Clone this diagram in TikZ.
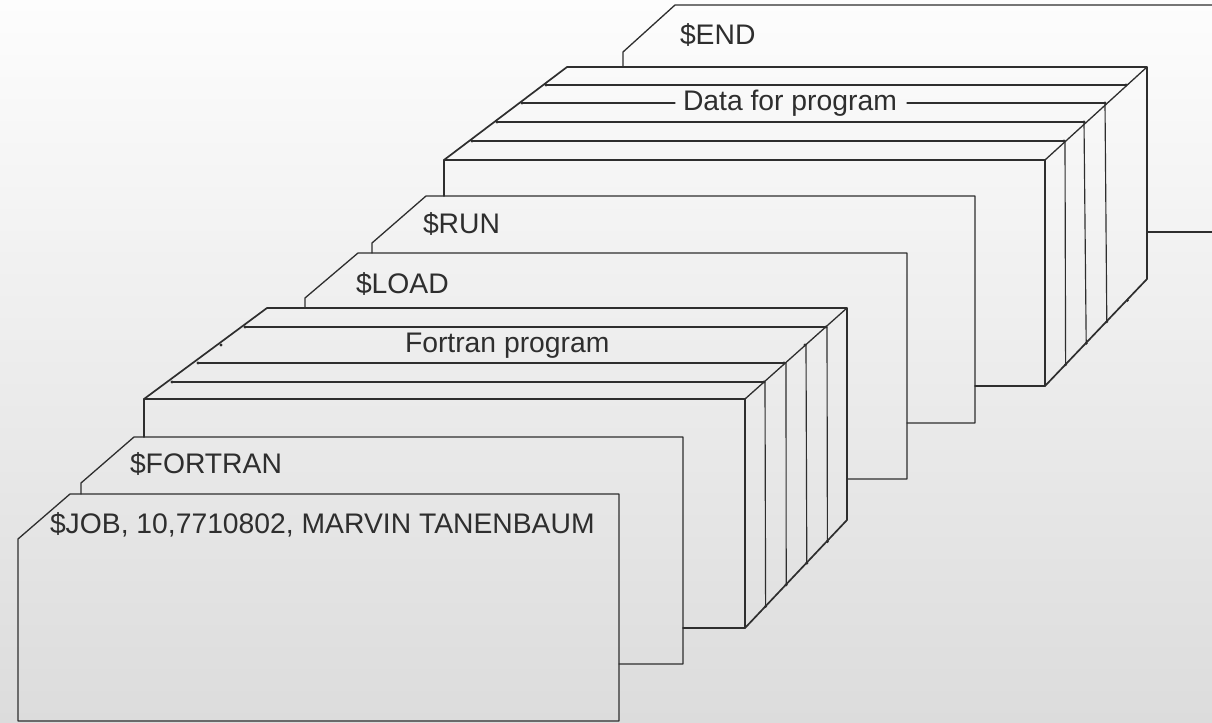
\documentclass[tikz,border=0pt]{standalone}
\usepackage{fontspec}
\setmainfont{Liberation Sans}
\definecolor{bgtop}{HTML}{FDFDFD}
\definecolor{bgmid}{HTML}{F3F3F3}
\definecolor{bgbot}{HTML}{DCDCDC}
\definecolor{inkc}{HTML}{2E2E2E}
\tikzset{
  ln/.style={draw=inkc, line width=1.3bp, line join=round, line cap=round},
  thk/.style={draw=inkc, line width=1.7bp, line join=round, line cap=round},
  thin/.style={draw=inkc, line width=1.15bp, line cap=round},
  lbl/.style={anchor=base west, inner sep=0pt, outer sep=0pt, text=inkc, font=\fontsize{28.4}{30}\selectfont},
  dot/.style={fill=inkc, draw=none}
}
\begin{document}
\begin{tikzpicture}[x=1bp, y=-1bp]
\useasboundingbox (0,0) rectangle (1212,723);
\fill[top color=bgtop, middle color=bgmid, bottom color=bgbot] (0,0) rectangle (1212,723);

% ---- $END card (runs off the right edge)
\draw[ln] (623,67) -- (623,52) -- (675,5) -- (1212,5);
\draw[ln] (1148,232) -- (1212,232);
\node[lbl] (endlbl) at (680,45) {\$END};

% ---- Data deck
\draw[thk] (444,196) -- (444,160) -- (567,67) -- (1147,67) -- (1147,279) -- (1045,386) -- (975,386);
\draw[thk] (444,160) -- (1045,160) -- (1045,386);
\draw[ln] (1045,160) -- (1147,67);
\draw[thin] (546,85) -- (1126,85);
\draw[thin] (522,103) -- (675,103);
\draw[thin] (907,103) -- (1105,103);
\draw[thin] (497,122) -- (1084,122);
\draw[thin] (472,141) -- (1064,141);
\draw[thin] (1065,141) -- (1065.6,364.6);
\draw[thin] (1084,122) -- (1086.2,343.2);
\draw[thin] (1105,103) -- (1106.8,321.8);
\foreach \p in {(546,85),(522,103),(497,122),(472,141),(1126,85),(1105,103),(1084,122),(1064,141),(1065.6,364.6),(1086.2,343.2),(1106.8,321.8),(1127.4,300.4)}
  \fill[dot] \p circle (1.6bp);
\node[lbl] (datalbl) at (683,111) {Data for program};

% ---- $RUN card
\draw[ln] (372,253) -- (372,243) -- (426,196) -- (975,196) -- (975,423) -- (907,423);
\node[lbl] (runlbl) at (423,234) {\$RUN};

% ---- $LOAD card
\draw[ln] (305,307) -- (305,298) -- (358,253) -- (907,253) -- (907,479) -- (848,479);
\node[lbl] (loadlbl) at (356,293) {\$LOAD};

% ---- Fortran program deck
\draw[thk] (144,437) -- (144,399) -- (267,308) -- (847,308) -- (847,520) -- (745,628) -- (683,628);
\draw[thk] (144,399) -- (745,399) -- (745,628);
\draw[ln] (745,399) -- (847,308);
\draw[thin] (245,327) -- (826,327);
\draw[thin] (198,363) -- (784,363);
\draw[thin] (172,382) -- (764,382);
\draw[thin] (765,382) -- (765.6,606.4);
\draw[thin] (786,363) -- (786.2,584.8);
\draw[thin] (806,345) -- (806.8,563.2);
\draw[thin] (827,327) -- (827.4,541.6);
\foreach \p in {(245,327),(221,345),(198,363),(172,382),(826,327),(805,345),(784,363),(764,382),(765.6,606.4),(786.2,584.8),(806.8,563.2),(827.4,541.6)}
  \fill[dot] \p circle (1.6bp);
\node[lbl] (fortranprog) at (405,352) {Fortran program};

% ---- $FORTRAN card
\draw[ln] (81,494) -- (81,483) -- (134,437) -- (683,437) -- (683,664) -- (619,664);
\node[lbl] (fortranlbl) at (130,473) {\$FORTRAN};

% ---- $JOB card
\draw[ln] (619,494) -- (70,494) -- (18,539) -- (18,721) -- (619,721) -- cycle;
\node[lbl] (joblbl) at (50,533) {\$JOB, 10,7710802, MARVIN TANENBAUM};
\end{tikzpicture}
\end{document}
